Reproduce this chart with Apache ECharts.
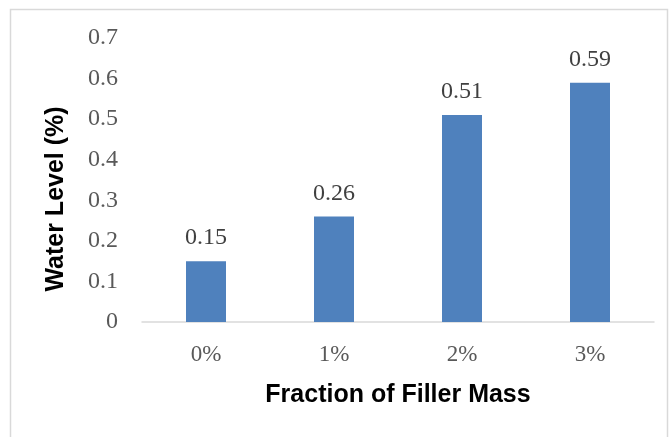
<!DOCTYPE html>
<html><head><meta charset="utf-8">
<script src="https://cdn.jsdelivr.net/npm/echarts@6/dist/echarts.min.js"></script>
<style>html,body{margin:0;padding:0;background:#fff}#c{width:672px;height:437px}</style>
</head><body><div id="c"></div>
<script>
const categories = ['0%', '1%', '2%', '3%'];
const values = [0.15, 0.26, 0.51, 0.59];
const yTicks = [0, 0.1, 0.2, 0.3, 0.4, 0.5, 0.6, 0.7];
const xTitle = 'Fraction of Filler Mass';
const yTitle = 'Water Level (%)';

const chart = echarts.init(document.getElementById('c'));
chart.setOption({
  animation: false,
  graphic: [
    { type: 'rect', shape: { x: 10.5, y: 9.5, width: 657, height: 440 },
      style: { fill: 'none', stroke: '#d9d9d9', lineWidth: 1.5 } },
    { type: 'text', x: 56, y: 199, rotation: Math.PI / 2,
      style: { text: yTitle, font: 'bold 25px "Liberation Sans", Arial, sans-serif',
        fill: '#000', textAlign: 'center', textVerticalAlign: 'middle' } }
  ],
  grid: { left: 142, right: 18, top: 38, bottom: 115 },
  xAxis: {
    type: 'category', data: categories,
    axisLine: { lineStyle: { color: '#d9d9d9', width: 1.5 } },
    axisTick: { show: false },
    axisLabel: { color: '#595959', fontSize: 23, fontFamily: '"Liberation Serif", serif', margin: 21 },
    name: xTitle, nameLocation: 'middle', nameGap: 61,
    nameTextStyle: { color: '#000', fontSize: 25, fontWeight: 'bold', fontFamily: '"Liberation Sans", Arial, sans-serif' }
  },
  yAxis: {
    type: 'value', min: 0, max: 0.7, interval: 0.1,
    axisLine: { show: false }, axisTick: { show: false },
    splitLine: { show: false },
    axisLabel: { color: '#595959', fontSize: 24, fontFamily: '"Liberation Serif", serif', margin: 24,
      formatter: v => { const t = yTicks.find(x => Math.abs(x - v) < 1e-9); return t === undefined ? '' : String(t); } }
  },
  series: [{
    type: 'bar', data: values, barWidth: 40,
    itemStyle: { color: '#4F81BD' },
    label: { show: true, position: 'top', distance: 11, color: '#404040', fontSize: 24,
      fontFamily: '"Liberation Serif", serif' }
  }]
});
</script></body></html>
